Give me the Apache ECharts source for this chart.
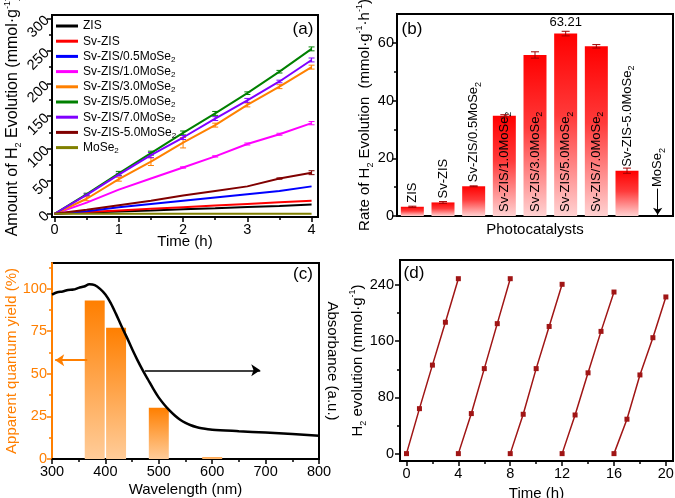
<!DOCTYPE html>
<html><head><meta charset="utf-8">
<script src="https://cdn.jsdelivr.net/npm/echarts@6/dist/echarts.min.js"></script>
<style>html,body{margin:0;padding:0;background:#fff}#c{width:675px;height:498px}</style>
</head><body><div id="c"></div>
<script>
const FONT = '"Liberation Sans", Arial, Helvetica, sans-serif';

// ---------- (a) H2 amount vs time ----------
const timeA = [0, 0.5, 1, 1.5, 2, 2.5, 3, 3.5, 4];
const namesA = ['ZIS', 'Sv-ZIS', 'Sv-ZIS/0.5MoSe2', 'Sv-ZIS/1.0MoSe2', 'Sv-ZIS/3.0MoSe2',
  'Sv-ZIS/5.0MoSe2', 'Sv-ZIS/7.0MoSe2', 'Sv-ZIS-5.0MoSe2', 'MoSe2'];
const valZIS    = [0, 1.8, 3.5, 5, 7, 8.5, 10.5, 12, 14];
const valSvZIS  = [0, 2.5, 5, 7.5, 10, 12.5, 15, 17.5, 20];
const valSv05   = [0, 4, 10, 15, 20, 25, 30, 35, 42];
const valSv10   = [0, 17, 37, 54, 71, 88, 107, 122, 139];
const valSv30   = [0, 23, 53, 80, 109, 136, 167, 195, 225];
const valSv50   = [0, 30, 62, 93, 124, 154, 185, 218, 253];
const valSv70   = [0, 29, 60, 90, 117, 146, 174, 203, 236];
const valSvm50  = [0, 6, 13, 20, 28, 35, 42, 54, 63];
const valMoSe2  = [0, 0, 0, 0, 0, 0, 0, 0, 0];
const errSv10   = [0, 0, 0, 0, 1, 1, 1.5, 1.5, 2.5];
const errSv30   = [0, 3, 3, 6, 8, 3, 3, 3, 3];
const errSv50   = [0, 1.5, 3, 3, 3, 3, 2, 2, 3];
const errSv70   = [0, 1.5, 2, 4, 3, 3, 3, 2, 3];
const errSvm50  = [0, 0, 0, 0, 0, 0, 0, 1, 3];
const ticksAx = [0, 1, 2, 3, 4];
const minorAx = [0.5, 1.5, 2.5, 3.5];
const ticksAy = [0, 50, 100, 150, 200, 250, 300];
const minorAy = [25, 75, 125, 175, 225, 275];

// ---------- (b) rate of H2 evolution ----------
const catsB = ['ZIS', 'Sv-ZIS', 'Sv-ZIS/0.5MoSe2', 'Sv-ZIS/1.0MoSe2', 'Sv-ZIS/3.0MoSe2',
  'Sv-ZIS/5.0MoSe2', 'Sv-ZIS/7.0MoSe2', 'Sv-ZIS-5.0MoSe2', 'MoSe2'];
const rateB    = [3.2, 4.7, 10.3, 34.7, 55.8, 63.21, 58.8, 15.7, 0];
const rateErrB = [0.2, 0.3, 0.15, 0.4, 1.1, 0.8, 0.6, 0.9, 0];
const peakLabelB = '63.21';
const moArrowB = [9.5, 0.4];
const ticksBy = [0, 20, 40, 60];
const minorBy = [10, 30, 50];

// ---------- (c) AQY + absorbance ----------
const aqyWavelength = [380, 420, 500, 600];
const aqyValue = [93, 77, 30, 1];
const aqyBand = 40;
const absWavelength = [300, 310, 320, 330, 340, 350, 360, 370, 380, 390, 400, 410, 420, 430, 440, 450,
  460, 470, 480, 490, 500, 510, 520, 530, 540, 550, 560, 570, 580, 600, 650, 700, 750, 800];
const absValue = [96.5, 97.8, 98.3, 99.2, 99.4, 100.4, 101.2, 102.5, 102, 99.8, 96.5, 91.5, 85, 78, 71.5, 64.5,
  58, 52, 46.5, 41, 36, 32, 28.5, 25.5, 23, 21.2, 19.8, 18.8, 18.1, 17.2, 16.3, 15.5, 14.6, 13.6];
const arrowAqy = [[366, 58], [306, 58]];
const arrowAbs = [[474, 52], [690, 52]];
const ticksCx = [300, 400, 500, 600, 700, 800];
const minorCx = [350, 450, 550, 650, 750];
const ticksCy = [0, 25, 50, 75, 100];
const minorCy = [12.5, 37.5, 62.5, 87.5, 112.5];

// ---------- (d) cycling ----------
const cycleTimes = [[0, 1, 2, 3, 4], [4, 5, 6, 7, 8], [8, 9, 10, 11, 12], [12, 13, 14, 15, 16], [16, 17, 18, 19, 20]];
const cycleValues = [[0, 64, 126, 187, 249], [0, 57, 121, 185, 249], [0, 56, 121, 181, 241],
  [0, 55, 115, 174, 230], [0, 49, 112, 165, 223]];
const ticksDx = [0, 4, 8, 12, 16, 20];
const minorDx = [2, 6, 10, 14, 18];
const ticksDy = [0, 80, 160, 240];
const minorDy = [40, 120, 200];

// ---------- helpers ----------
const RICH = {
  sub: {fontSize: 9, lineHeight: 10, verticalAlign: 'bottom', fontFamily: FONT},
  sup: {fontSize: 9, lineHeight: 10, verticalAlign: 'top', fontFamily: FONT}
};
function subFmt(s) { return s.replace(/MoSe2/g, 'MoSe{sub|2}'); }

function mainAxis(type, gridIndex, min, max, labels, extra) {
  const ax = {
    type: 'value', gridIndex, min, max,
    splitLine: {show: false},
    axisLine: {show: true, onZero: false, lineStyle: {color: '#000', width: 2}},
    axisTick: {show: true, inside: false, length: 5, customValues: labels, lineStyle: {color: '#000', width: 1.5}},
    axisLabel: {show: true, customValues: labels, color: '#000', fontSize: 14.5, fontFamily: FONT, margin: 5},
    nameLocation: 'middle', nameMoveOverlap: false,
    nameTextStyle: {color: '#000', fontSize: 15, fontFamily: FONT, lineHeight: 20, rich: RICH}
  };
  return Object.assign(ax, extra || {});
}
function minorAxis(gridIndex, min, max, ticks, position) {
  return {
    type: 'value', gridIndex, min, max, position,
    splitLine: {show: false},
    axisLine: {show: false, onZero: false},
    axisLabel: {show: false},
    axisTick: {show: true, inside: false, length: 3, customValues: ticks, lineStyle: {color: '#000', width: 1.5}}
  };
}
function errRender(capHalf) {
  return function (params, api) {
    const x = api.value(0), y = api.value(1), e = api.value(2);
    if (!e) return null;
    const t = api.coord([x, y + e]), b = api.coord([x, y - e]);
    const cx = t[0];
    const st = {stroke: api.visual('color'), lineWidth: 1};
    return {type: 'group', children: [
      {type: 'line', shape: {x1: cx, y1: t[1], x2: cx, y2: b[1]}, style: st},
      {type: 'line', shape: {x1: cx - capHalf, y1: t[1], x2: cx + capHalf, y2: t[1]}, style: st},
      {type: 'line', shape: {x1: cx - capHalf, y1: b[1], x2: cx + capHalf, y2: b[1]}, style: st}
    ]};
  };
}

const grids = [
  {left: 52, top: 15, width: 266, height: 202},
  {left: 397, top: 14, width: 276, height: 202},
  {left: 52, top: 263, width: 267, height: 196},
  {left: 400, top: 260, width: 273, height: 201}
].map(g => Object.assign({show: true, borderColor: '#000', borderWidth: 2, backgroundColor: 'transparent',
  outerBoundsMode: 'none', containLabel: false}, g));

const xAxis = [
  mainAxis('x', 0, -0.04, 4.1, ticksAx, {position: 'bottom', name: 'Time (h)', nameGap: 15}),
  minorAxis(0, -0.04, 4.1, minorAx, 'bottom'),
  {type: 'category', gridIndex: 1, data: catsB, position: 'bottom',
    axisLine: {show: true, onZero: false, lineStyle: {color: '#000', width: 2}},
    axisTick: {show: false}, axisLabel: {show: false}, splitLine: {show: false},
    name: 'Photocatalysts', nameLocation: 'middle', nameGap: 6, nameMoveOverlap: false,
    nameTextStyle: {color: '#000', fontSize: 15, fontFamily: FONT}},
  mainAxis('x', 2, 300, 800, ticksCx, {position: 'bottom', name: 'Wavelength (nm)', nameGap: 21}),
  minorAxis(2, 300, 800, minorCx, 'bottom'),
  mainAxis('x', 3, -0.5, 20.55, ticksDx, {position: 'bottom', name: 'Time (h)', nameGap: 23}),
  minorAxis(3, -0.5, 20.55, minorDx, 'bottom')
];

const ORANGE = '#ff7f00';
const yAxis = [
  mainAxis('y', 0, -5, 305, ticksAy, {position: 'left', name: 'Amount of H{sub|2} Evolution (mmol·g{sup|-1})', nameGap: 29,
    nameTextStyle: {color: '#000', fontSize: 16, fontFamily: FONT, lineHeight: 20, rich: RICH},
    axisLabel: {show: true, customValues: ticksAy, color: '#000', fontSize: 14.5, fontFamily: FONT, margin: 5, rotate: 45}}),
  minorAxis(0, -5, 305, minorAy, 'left'),
  mainAxis('y', 1, 0, 70, ticksBy, {position: 'left', name: 'Rate of H{sub|2} Evolution  (mmol·g{sup|-1}·h{sup|-1})', nameGap: 22,
    axisLabel: {show: true, customValues: ticksBy, color: '#000', fontSize: 14.5, fontFamily: FONT, margin: 3}}),
  minorAxis(1, 0, 70, minorBy, 'left'),
  mainAxis('y', 2, 0, 115, ticksCy, {position: 'left', name: 'Apparent quantum yield (%)', nameGap: 30,
    axisLine: {show: true, onZero: false, lineStyle: {color: ORANGE, width: 2}},
    axisTick: {show: true, inside: false, length: 5, customValues: ticksCy, lineStyle: {color: ORANGE, width: 1.5}},
    axisLabel: {show: true, customValues: ticksCy, color: ORANGE, fontSize: 14.5, fontFamily: FONT, margin: 5},
    nameTextStyle: {color: ORANGE, fontSize: 15, fontFamily: FONT, lineHeight: 20}}),
  Object.assign(minorAxis(2, 0, 115, minorCy, 'left'),
    {axisTick: {show: true, inside: false, length: 3, customValues: minorCy, lineStyle: {color: ORANGE, width: 1.5}}}),
  {type: 'value', gridIndex: 2, min: 0, max: 115, position: 'right',
    axisLine: {show: false, onZero: false}, axisTick: {show: false}, axisLabel: {show: false}, splitLine: {show: false},
    name: 'Absorbance (a.u.)', nameLocation: 'middle', nameGap: 3, nameRotate: -90, nameMoveOverlap: false,
    nameTextStyle: {color: '#000', fontSize: 15, fontFamily: FONT, lineHeight: 20}},
  mainAxis('y', 3, -10.5, 275.6, ticksDy, {position: 'left', name: 'H{sub|2} evolution (mmol·g{sup|-1})', nameGap: 32,
    axisLabel: {show: true, customValues: ticksDy, color: '#000', fontSize: 14.5, fontFamily: FONT, margin: 6}}),
  minorAxis(3, -10.5, 275.6, minorDy, 'left')
];

const colorsA = ['#000000', '#ff0000', '#0000ff', '#ff00ff', '#ff8000', '#008000', '#8000ff', '#800000', '#808000'];
const valsA = [valZIS, valSvZIS, valSv05, valSv10, valSv30, valSv50, valSv70, valSvm50, valMoSe2];
const errsA = [null, null, null, errSv10, errSv30, errSv50, errSv70, errSvm50, null];

const series = [];
namesA.forEach((n, i) => {
  series.push({
    type: 'line', name: n, xAxisIndex: 0, yAxisIndex: 0,
    data: timeA.map((t, j) => [t, valsA[i][j]]),
    showSymbol: false, symbol: 'none',
    lineStyle: {width: 2, color: colorsA[i]}, itemStyle: {color: colorsA[i]}
  });
});
errsA.forEach((e, i) => {
  if (!e) return;
  series.push({
    type: 'custom', name: namesA[i] + ' err', xAxisIndex: 0, yAxisIndex: 0,
    itemStyle: {color: colorsA[i]},
    renderItem: errRender(3),
    data: timeA.map((t, j) => [t, valsA[i][j], e[j]])
  });
});

series.push({
  type: 'bar', name: 'rate', xAxisIndex: 2, yAxisIndex: 2, barWidth: 23,
  itemStyle: {color: new echarts.graphic.LinearGradient(0, 0, 0, 1, [
    {offset: 0, color: '#ff0000'}, {offset: 0.45, color: '#ff3a3a'}, {offset: 1, color: '#ffd2d2'}])},
  label: {show: true, rotate: 90, align: 'left', verticalAlign: 'middle', fontSize: 13, fontFamily: FONT,
    color: '#000', lineHeight: 18, rich: RICH, formatter: p => subFmt(p.name)},
  data: rateB.map(v => ({value: v,
    label: v > 30 ? {position: 'insideBottom', distance: 4} : {position: 'top', distance: v < 1 ? 29 : 4}})),
  markPoint: {symbol: 'circle', symbolSize: 1, itemStyle: {color: 'rgba(0,0,0,0)'}, silent: true,
    label: {show: true, position: 'top', distance: 2, rotate: 0, formatter: peakLabelB, fontSize: 13,
      fontFamily: FONT, color: '#000'},
    data: [{coord: [catsB[5], rateB[5] + rateErrB[5]]}]},
  markLine: {symbol: ['none', 'arrow'], symbolSize: 7, silent: true, label: {show: false},
    lineStyle: {color: '#000', width: 1, type: 'solid'},
    data: [[{coord: [catsB[8], moArrowB[0]]}, {coord: [catsB[8], moArrowB[1]]}]]}
});
series.push({
  type: 'custom', name: 'rate err', xAxisIndex: 2, yAxisIndex: 2,
  itemStyle: {color: '#a00000'}, renderItem: errRender(4), z: 5,
  data: rateB.map((v, i) => [i, v, rateErrB[i]])
});

series.push({
  type: 'custom', name: 'aqy', xAxisIndex: 3, yAxisIndex: 4,
  renderItem: function (params, api) {
    const c = api.value(0), v = api.value(1);
    const p0 = api.coord([c - aqyBand / 2, v]);
    const p1 = api.coord([c + aqyBand / 2, 0]);
    return {type: 'rect', shape: {x: p0[0] + 0.7, y: p0[1], width: p1[0] - p0[0] - 1.4, height: p1[1] - p0[1]},
      style: {fill: new echarts.graphic.LinearGradient(0, 0, 0, 1, [
        {offset: 0, color: '#ff7f00'}, {offset: 1, color: '#ffcc99'}])}};
  },
  data: aqyWavelength.map((w, i) => [w, aqyValue[i]])
});
series.push({
  type: 'line', name: 'abs', xAxisIndex: 3, yAxisIndex: 6, smooth: 0.3,
  showSymbol: false, symbol: 'none', lineStyle: {color: '#000', width: 2.5},
  data: absWavelength.map((w, i) => [w, absValue[i]]),
  markLine: {symbol: ['none', 'arrow'], symbolSize: 9, silent: true, label: {show: false},
    data: [
      [{coord: arrowAqy[0], lineStyle: {color: ORANGE, width: 2, type: 'solid'}}, {coord: arrowAqy[1]}],
      [{coord: arrowAbs[0], lineStyle: {color: '#000', width: 1.5, type: 'solid'}}, {coord: arrowAbs[1]}]
    ]}
});

cycleTimes.forEach((ts, k) => {
  series.push({
    type: 'line', name: 'cycle' + (k + 1), xAxisIndex: 5, yAxisIndex: 7,
    symbol: 'rect', symbolSize: 5, showSymbol: true,
    lineStyle: {color: '#a01515', width: 1.5}, itemStyle: {color: '#a01515'},
    data: ts.map((t, j) => [t, cycleValues[k][j]])
  });
});

const chart = echarts.init(document.getElementById('c'), null, {renderer: 'canvas'});
chart.setOption({
  animation: false,
  backgroundColor: '#fff',
  textStyle: {fontFamily: FONT},
  grid: grids,
  xAxis, yAxis,
  legend: [{
    data: namesA, orient: 'vertical', left: 56, top: 19, itemWidth: 22, itemHeight: 3, itemGap: 1.2,
    icon: 'rect', padding: 0, selectedMode: false,
    textStyle: {fontSize: 12, fontFamily: FONT, color: '#000', lineHeight: 14,
      rich: {sub: {fontSize: 8, lineHeight: 8, verticalAlign: 'bottom', fontFamily: FONT}}},
    formatter: subFmt
  }],
  graphic: [
    {type: 'text', x: 303, y: 29, style: {text: '(a)', fontSize: 17, fontFamily: FONT, fill: '#000', align: 'center', verticalAlign: 'middle'}},
    {type: 'text', x: 412, y: 29, style: {text: '(b)', fontSize: 17, fontFamily: FONT, fill: '#000', align: 'center', verticalAlign: 'middle'}},
    {type: 'text', x: 303, y: 274, style: {text: '(c)', fontSize: 17, fontFamily: FONT, fill: '#000', align: 'center', verticalAlign: 'middle'}},
    {type: 'text', x: 414, y: 273, style: {text: '(d)', fontSize: 17, fontFamily: FONT, fill: '#000', align: 'center', verticalAlign: 'middle'}}
  ],
  series
});
</script></body></html>
